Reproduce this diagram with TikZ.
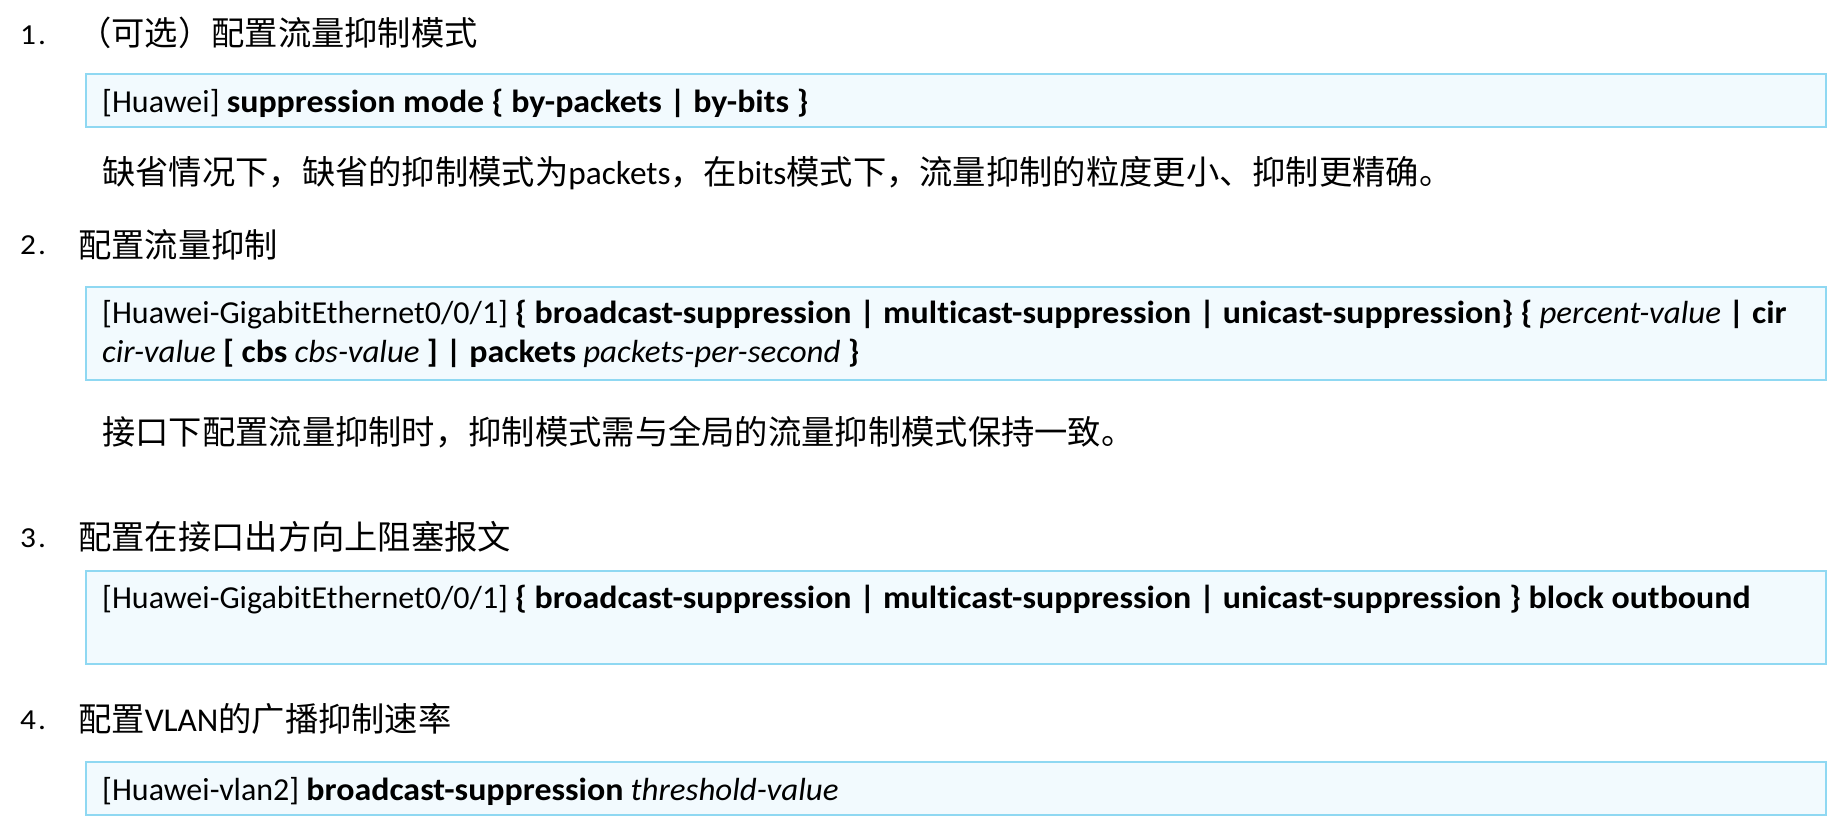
\documentclass[tikz,border=0pt]{standalone}
\usepackage{fontspec}
\setmainfont{Carlito}[Ligatures=NoCommon, BoldFeatures={FakeStretch=1.06}, ItalicFeatures={FakeStretch=1.03}]
\newfontfamily\cjk{Noto Sans CJK SC}
\newfontfamily\cjklatin{Carlito}[Ligatures=NoCommon]
\newfontfamily\numfont{Carlito}[FakeStretch=1.08]
\newcommand\secnum[1]{#1\kern2pt.}
\definecolor{boxfill}{HTML}{F2FAFE}
\definecolor{boxline}{HTML}{8FD8F2}
\begin{document}
\begin{tikzpicture}[x=1pt,y=-1pt,
  cmdbox/.style={draw=boxline, fill=boxfill, line width=2pt, inner sep=0pt, anchor=north west, minimum width=1740pt},
  num/.style={anchor=base west, inner sep=0pt, font=\fontsize{29}{33}\numfont},
  title/.style={anchor=base west, inner sep=0pt, font=\fontsize{33.3}{38}\cjk},
  cmd/.style={anchor=base west, inner sep=0pt, font=\fontsize{32}{38}\selectfont},
  note/.style={anchor=base west, inner sep=0pt, font=\fontsize{33.3}{38}\cjk}]
\useasboundingbox (0,0) rectangle (1827,828);
\fill[white] (0,0) rectangle (1827,828);
% section 1
\node[num] (n1) at (20,44) {\secnum{1}};
\node[title] (t1) at (78,45) {（可选）配置流量抑制模式};
\node[cmdbox, minimum height=53pt] (b1) at (85,73) {};
\node[cmd] (c1) at (102,112) {[Huawei] \textbf{suppression mode \{ by-packets | by-bits \}}};
\node[note] (m1) at (102,184) {缺省情况下，缺省的抑制模式为{\cjklatin packets}，在{\cjklatin bits}模式下，流量抑制的粒度更小、抑制更精确。};
% section 2
\node[num] (n2) at (20,254) {\secnum{2}};
\node[title] (t2) at (78,257) {配置流量抑制};
\node[cmdbox, minimum height=93pt] (b2) at (85,286) {};
\node[cmd] (c2a) at (102,323) {[Huawei-GigabitEthernet0/0/1] \textbf{\{ broadcast-suppression | multicast-suppression | unicast-suppression\} \{} \textit{percent-value} \textbf{| cir}};
\node[cmd] (c2b) at (102,362) {\textit{cir-value} \textbf{[ cbs} \textit{cbs-value} \textbf{] | packets} \textit{packets-per-second} \textbf{\}}};
\node[note] (m2) at (102,444) {接口下配置流量抑制时，抑制模式需与全局的流量抑制模式保持一致。};
% section 3
\node[num] (n3) at (20,547) {\secnum{3}};
\node[title] (t3) at (78,549) {配置在接口出方向上阻塞报文};
\node[cmdbox, minimum height=93pt] (b3) at (85,570) {};
\node[cmd] (c3) at (102,608) {[Huawei-GigabitEthernet0/0/1] \textbf{\{ broadcast-suppression | multicast-suppression | unicast-suppression \} block outbound}};
% section 4
\node[num] (n4) at (20,729) {\secnum{4}};
\node[title] (t4) at (78,731) {配置{\cjklatin VLAN}的广播抑制速率};
\node[cmdbox, minimum height=53pt] (b4) at (85,761) {};
\node[cmd] (c4) at (102,800) {[Huawei-vlan2] \textbf{broadcast-suppression} \textit{threshold-value}};
\end{tikzpicture}
\end{document}
